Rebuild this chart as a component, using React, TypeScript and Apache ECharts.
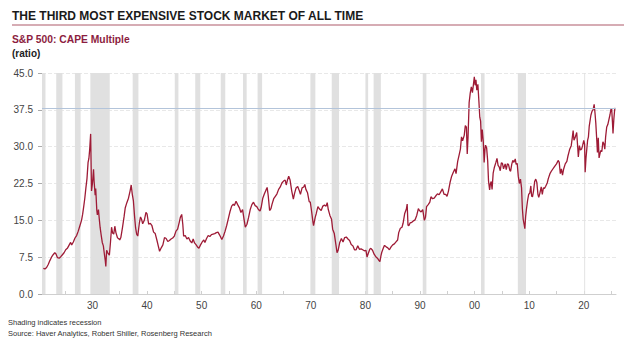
import React, { useEffect, useRef } from "react";
import * as echarts from "echarts";

const titleText = "THE THIRD MOST EXPENSIVE STOCK MARKET OF ALL TIME";
const subtitleText = "S&P 500: CAPE Multiple";
const unitText = "(ratio)";
const footnote1 = "Shading indicates recession";
const footnote2 = "Source: Haver Analytics, Robert Shiller, Rosenberg Research";

const yTicks = [0, 7.5, 15, 22.5, 30, 37.5, 45];
const xLabelYears = [1930, 1940, 1950, 1960, 1970, 1980, 1990, 2000, 2010, 2020];
const xTickYears = [1925, 1930, 1935, 1940, 1945, 1950, 1955, 1960, 1965, 1970, 1975, 1980, 1985, 1990, 1995, 2000, 2005, 2010, 2015, 2020, 2025];
const referenceLevel = 37.8;

const recessionStart = [1920.76, 1923.37, 1926.79, 1929.62, 1937.37, 1945.08, 1948.83, 1953.5, 1957.58, 1960.25, 1969.92, 1973.83, 1980.0, 1981.5, 1990.5, 2001.17, 2007.92, 2020.08];
const recessionEnd = [1921.4, 1924.5, 1927.83, 1933.17, 1938.42, 1945.75, 1949.75, 1954.33, 1958.25, 1961.08, 1970.83, 1975.17, 1980.5, 1982.83, 1991.17, 2001.83, 2009.42, 2020.25];

const years = [
  1921.0, 1921.3, 1921.6, 1921.9, 1922.2, 1922.5, 1922.8, 1923.1, 1923.3, 1923.6, 1923.9, 1924.2, 1924.5, 1924.8,
  1925.1, 1925.4, 1925.7, 1926.0, 1926.2, 1926.5, 1926.8, 1927.1, 1927.4, 1927.7, 1928.0, 1928.2, 1928.4, 1928.6,
  1928.8, 1929.0, 1929.2, 1929.35, 1929.5, 1929.67, 1929.83, 1930.0, 1930.2, 1930.3, 1930.5, 1930.6, 1930.8, 1930.9,
  1931.1, 1931.25, 1931.4, 1931.6, 1931.8, 1932.0, 1932.2, 1932.35, 1932.45, 1932.6, 1932.75, 1932.9, 1933.1, 1933.3,
  1933.5, 1933.7, 1933.9, 1934.1, 1934.3, 1934.6, 1934.8, 1935.0, 1935.2, 1935.5, 1935.8, 1936.0, 1936.3, 1936.6,
  1936.9, 1937.1, 1937.3, 1937.5, 1937.7, 1937.9, 1938.1, 1938.3, 1938.6, 1938.8, 1939.0, 1939.2, 1939.5, 1939.8,
  1940.0, 1940.3, 1940.6, 1940.9, 1941.2, 1941.5, 1941.8, 1942.1, 1942.3, 1942.6, 1942.9, 1943.2, 1943.5, 1943.8,
  1944.1, 1944.4, 1944.7, 1945.0, 1945.3, 1945.6, 1945.9, 1946.1, 1946.35, 1946.55, 1946.7, 1947.0, 1947.3, 1947.6,
  1947.9, 1948.2, 1948.45, 1948.7, 1949.0, 1949.3, 1949.5, 1949.8, 1950.1, 1950.4, 1950.6, 1950.9, 1951.2, 1951.5,
  1951.8, 1952.1, 1952.4, 1952.7, 1953.0, 1953.3, 1953.7, 1954.0, 1954.3, 1954.6, 1954.9, 1955.2, 1955.5, 1955.8,
  1956.0, 1956.3, 1956.6, 1956.9, 1957.2, 1957.5, 1957.8, 1958.0, 1958.3, 1958.6, 1958.9, 1959.2, 1959.5, 1959.8,
  1960.1, 1960.4, 1960.7, 1960.9, 1961.2, 1961.5, 1961.8, 1962.0, 1962.2, 1962.45, 1962.7, 1962.9, 1963.2, 1963.5,
  1963.8, 1964.1, 1964.4, 1964.7, 1965.0, 1965.3, 1965.5, 1965.7, 1965.95, 1966.2, 1966.5, 1966.8, 1967.0, 1967.3,
  1967.6, 1967.9, 1968.1, 1968.4, 1968.7, 1968.9, 1969.1, 1969.4, 1969.7, 1969.9, 1970.1, 1970.4, 1970.5, 1970.8,
  1971.0, 1971.3, 1971.6, 1971.9, 1972.2, 1972.5, 1972.8, 1973.0, 1973.2, 1973.5, 1973.8, 1974.0, 1974.3, 1974.6,
  1974.8, 1975.0, 1975.3, 1975.6, 1975.9, 1976.2, 1976.5, 1976.8, 1977.1, 1977.4, 1977.7, 1978.0, 1978.3, 1978.6,
  1978.9, 1979.2, 1979.5, 1979.8, 1980.1, 1980.3, 1980.5, 1980.8, 1981.0, 1981.3, 1981.6, 1981.9, 1982.2, 1982.5,
  1982.65, 1982.85, 1983.0, 1983.3, 1983.5, 1983.8, 1984.1, 1984.4, 1984.7, 1985.0, 1985.3, 1985.6, 1985.9, 1986.1,
  1986.4, 1986.7, 1986.9, 1987.2, 1987.5, 1987.65, 1987.8, 1987.95, 1988.2, 1988.5, 1988.8, 1989.1, 1989.4, 1989.7,
  1989.9, 1990.2, 1990.5, 1990.8, 1991.0, 1991.2, 1991.5, 1991.8, 1992.0, 1992.3, 1992.6, 1992.9, 1993.2, 1993.5,
  1993.8, 1994.1, 1994.4, 1994.7, 1994.95, 1995.2, 1995.5, 1995.8, 1996.1, 1996.4, 1996.6, 1996.9, 1997.2, 1997.4,
  1997.6, 1997.8, 1998.1, 1998.3, 1998.5, 1998.65, 1998.8, 1999.0, 1999.2, 1999.4, 1999.6, 1999.8, 1999.95, 2000.1,
  2000.25, 2000.4, 2000.6, 2000.8, 2000.95, 2001.1, 2001.25, 2001.4, 2001.6, 2001.75, 2001.9, 2002.0, 2002.2, 2002.4,
  2002.55, 2002.75, 2002.9, 2003.05, 2003.2, 2003.4, 2003.6, 2003.9, 2004.1, 2004.3, 2004.5, 2004.7, 2004.9, 2005.1,
  2005.3, 2005.6, 2005.8, 2006.0, 2006.2, 2006.45, 2006.6, 2006.8, 2007.0, 2007.2, 2007.45, 2007.6, 2007.8, 2008.0,
  2008.2, 2008.4, 2008.6, 2008.75, 2008.9, 2009.1, 2009.2, 2009.35, 2009.5, 2009.7, 2009.9, 2010.1, 2010.3, 2010.45,
  2010.6, 2010.8, 2011.0, 2011.2, 2011.4, 2011.6, 2011.75, 2011.95, 2012.2, 2012.4, 2012.6, 2012.8, 2013.0, 2013.3,
  2013.5, 2013.8, 2014.0, 2014.3, 2014.6, 2014.8, 2015.0, 2015.3, 2015.5, 2015.7, 2015.9, 2016.1, 2016.3, 2016.6,
  2016.9, 2017.1, 2017.4, 2017.7, 2017.9, 2018.05, 2018.2, 2018.4, 2018.7, 2018.9, 2019.0, 2019.2, 2019.4, 2019.6,
  2019.8, 2020.0, 2020.15, 2020.25, 2020.4, 2020.55, 2020.7, 2020.85, 2021.0, 2021.3, 2021.5, 2021.7, 2021.9, 2022.05,
  2022.2, 2022.4, 2022.5, 2022.65, 2022.8, 2022.95, 2023.1, 2023.3, 2023.5, 2023.7, 2023.85, 2024.0, 2024.2, 2024.4,
  2024.6, 2024.8, 2024.95, 2025.1, 2025.25, 2025.35, 2025.5, 2025.65, 2025.75
];

const cape = [
  5.2, 5.1, 5.4, 6.0, 6.8, 7.5, 8.0, 8.4, 8.2, 7.4, 7.3, 7.6, 8.0, 8.4,
  9.0, 9.3, 9.9, 10.5, 10.0, 10.6, 11.4, 11.9, 12.8, 13.9, 15.0, 16.2, 17.8, 19.5,
  21.6, 23.5, 26.8, 27.6, 29.5, 32.6, 21.0, 22.5, 25.4, 23.0, 20.1, 21.5, 17.0, 16.1,
  17.2, 15.3, 13.6, 12.0, 10.5, 9.8, 8.0, 6.8, 5.6, 8.9, 8.5, 8.2, 7.9, 10.5,
  13.6, 12.4, 12.2, 13.8, 12.5, 11.4, 11.3, 11.0, 11.5, 13.5, 15.8, 17.5, 18.6, 19.5,
  21.0, 22.2, 20.3, 19.0, 16.0, 13.5, 12.2, 11.8, 14.5, 15.7, 15.2, 14.3, 15.0, 16.6,
  16.3, 14.2, 14.4, 13.9, 12.6, 12.3, 11.0, 9.6, 8.7, 9.4, 10.0, 11.5, 11.3, 10.7,
  10.9, 11.2, 11.4, 11.8, 12.8, 13.2, 14.6, 15.6, 16.2, 14.2, 11.8, 11.9, 11.2, 11.5,
  10.8, 10.4, 11.2, 10.4, 10.0, 9.5, 9.3, 10.0, 10.6, 11.0, 10.5, 11.3, 11.9, 11.7,
  12.1, 12.2, 12.3, 12.5, 12.6, 12.0, 11.1, 11.8, 12.8, 14.0, 15.4, 16.8, 17.9, 18.3,
  18.0, 18.9, 18.2, 17.6, 16.6, 17.2, 15.0, 13.6, 14.2, 15.6, 17.2, 18.2, 18.7, 18.0,
  17.8, 17.2, 16.9, 17.6, 19.5, 20.4, 21.2, 21.7, 20.0, 17.0, 17.4, 18.3, 19.4, 19.9,
  20.4, 21.3, 21.8, 22.6, 23.0, 23.2, 22.2, 23.1, 24.0, 23.2, 21.0, 19.3, 20.4, 21.6,
  21.9, 21.0, 20.3, 21.6, 21.8, 22.3, 21.3, 20.6, 18.8, 18.7, 17.2, 14.6, 13.9, 15.6,
  16.4, 17.8, 17.3, 17.0, 17.9, 18.1, 17.9, 18.6, 17.2, 16.0, 15.2, 13.2, 12.3, 10.0,
  8.4, 8.9, 10.5, 11.3, 10.6, 11.5, 11.6, 11.2, 10.9, 10.1, 9.8, 9.0, 9.0, 9.8,
  9.1, 9.2, 9.0, 8.8, 8.9, 7.5, 8.2, 9.1, 9.3, 8.9, 8.1, 7.6, 7.3, 6.8,
  6.6, 7.8, 8.5, 9.4, 9.9, 9.6, 9.4, 9.0, 9.6, 10.0, 10.2, 10.6, 11.0, 12.5,
  13.4, 13.6, 14.4, 16.4, 17.3, 18.3, 14.0, 13.9, 14.5, 14.6, 14.9, 15.1, 16.0, 17.4,
  17.0, 16.7, 17.2, 15.0, 15.6, 17.8, 18.2, 18.7, 19.8, 19.4, 19.5, 20.0, 20.4, 20.2,
  20.8, 21.4, 20.3, 20.3, 19.9, 20.9, 22.7, 24.0, 24.8, 25.5, 24.5, 27.0, 28.5, 29.5,
  32.0, 31.2, 32.3, 34.3, 34.0, 28.5, 32.0, 39.0, 40.9, 42.2, 41.0, 42.8, 44.2, 42.5,
  43.6, 41.5, 42.7, 39.0, 36.0, 35.2, 31.0, 33.5, 30.9, 26.8, 29.5, 30.3, 29.8, 27.0,
  23.0, 21.2, 22.5, 22.9, 21.3, 24.6, 25.7, 26.8, 27.6, 26.2, 25.9, 25.1, 26.7, 26.6,
  25.5, 26.5, 25.3, 26.5, 26.4, 25.2, 25.0, 26.4, 27.2, 26.8, 27.5, 26.4, 26.6, 24.0,
  22.5, 23.4, 21.6, 17.4, 15.2, 14.0, 13.3, 15.8, 17.3, 19.0, 20.3, 20.5, 22.0, 19.9,
  19.8, 21.0, 22.9, 23.4, 22.7, 20.3, 19.7, 20.5, 21.8, 20.3, 21.6, 21.5, 21.9, 22.6,
  23.5, 24.5, 24.9, 25.4, 25.9, 26.2, 26.5, 27.2, 26.8, 24.5, 25.5, 24.2, 25.4, 26.5,
  27.0, 28.1, 29.4, 30.2, 31.9, 33.3, 31.3, 31.8, 32.9, 29.7, 27.9, 30.2, 29.3, 29.5,
  30.3, 31.3, 30.5, 24.8, 27.6, 29.5, 31.3, 32.0, 34.2, 36.4, 37.2, 37.5, 38.6, 36.9,
  34.8, 30.9, 28.8, 31.8, 27.7, 28.5, 29.2, 29.0, 31.0, 30.5, 29.5, 32.0, 34.0, 34.5,
  35.5, 36.5, 37.5, 37.8, 35.0, 32.7, 35.5, 37.5, 37.9
];

export default function App() {
  const ref = useRef<HTMLDivElement>(null);

  useEffect(() => {
    if (!ref.current) return;
    const chart = echarts.init(ref.current, undefined, { renderer: "svg" });
    const font = "'Liberation Sans', Arial, sans-serif";
    const lineData = years.map((y, i) => [y, cape[i]]);
    const bands = recessionStart.map((s, i) => [{ xAxis: s }, { xAxis: recessionEnd[i] }]);

    chart.setOption({
      animation: false,
      backgroundColor: "#ffffff",
      grid: { left: 42, right: 8, top: 73, bottom: 57, containLabel: false },
      xAxis: {
        type: "value",
        min: 1920.76,
        max: 2025.9,
        axisLine: { show: true, lineStyle: { color: "#cfcfcf", width: 1 } },
        axisTick: { show: true, inside: true, length: 3, customValues: xTickYears, lineStyle: { color: "#cfcfcf" } },
        axisLabel: {
          customValues: xLabelYears,
          color: "#444",
          fontSize: 10,
          fontFamily: font,
          margin: 6,
          formatter: (v: number) => String(Math.round(v) % 100).padStart(2, "0"),
        },
        splitLine: { show: false },
      },
      yAxis: {
        type: "value",
        min: 0,
        max: 45,
        interval: 7.5,
        axisLine: { show: false },
        axisTick: { show: true, length: 4, lineStyle: { color: "#aaaaaa" } },
        axisLabel: {
          color: "#444",
          fontSize: 10,
          fontFamily: font,
          margin: 9,
          formatter: (v: number) => v.toFixed(1),
        },
        splitLine: { show: true, lineStyle: { color: "#e8e8e8", type: "dashed", width: 1 } },
      },
      series: [
        {
          type: "line",
          data: [],
          silent: true,
          z: 1,
          markArea: {
            silent: true,
            itemStyle: { color: "#e0e0e0", opacity: 1 },
            data: bands,
          },
          markLine: {
            silent: true,
            symbol: ["none", "none"],
            label: { show: false },
            lineStyle: { color: "#b3c4da", width: 1, type: "solid" },
            data: [{ yAxis: referenceLevel }],
          },
        },
        {
          type: "line",
          data: lineData,
          showSymbol: false,
          symbol: "none",
          z: 3,
          lineStyle: { color: "#9e1b36", width: 1.3 },
        },
      ],
      graphic: [
        {
          type: "text",
          left: 12,
          top: 10,
          style: { text: titleText, font: `bold 12px ${font}`, fill: "#1a1a1a" },
        },
        {
          type: "line",
          shape: { x1: 12, y1: 25, x2: 624, y2: 25 },
          style: { stroke: "#c8909b", lineWidth: 1.5 },
        },
        {
          type: "text",
          left: 12,
          top: 34,
          style: { text: subtitleText, font: `bold 10.3px ${font}`, fill: "#8c1d40" },
        },
        {
          type: "text",
          left: 12,
          top: 48,
          style: { text: unitText, font: `bold 10px ${font}`, fill: "#222" },
        },
        {
          type: "text",
          left: 8,
          top: 318,
          style: { text: footnote1, font: `7.5px ${font}`, fill: "#333" },
        },
        {
          type: "text",
          left: 8,
          top: 329,
          style: { text: footnote2, font: `7.5px ${font}`, fill: "#333" },
        },
      ],
    });

    return () => chart.dispose();
  }, []);

  return <div ref={ref} style={{ width: 624, height: 351, position: "absolute", left: 0, top: 0 }} />;
}
